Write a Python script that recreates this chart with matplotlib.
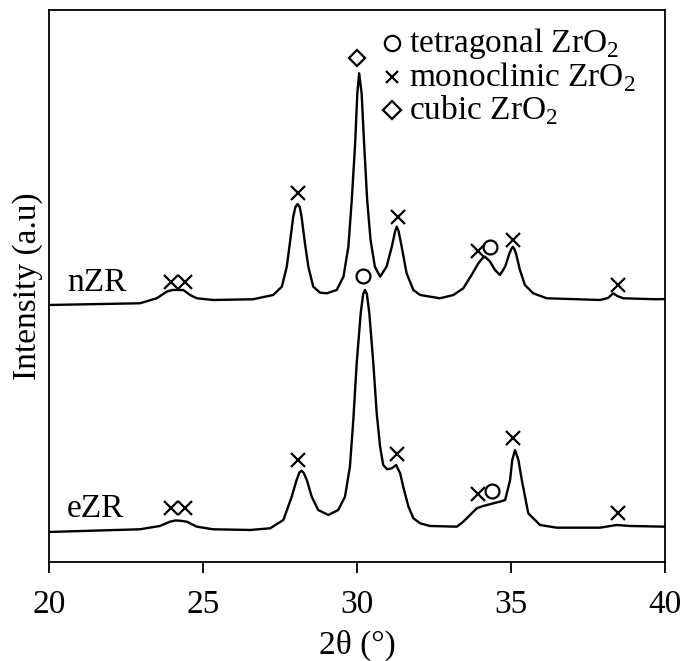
import matplotlib
matplotlib.use("Agg")
import matplotlib.pyplot as plt

plt.rcParams['font.family'] = ['Liberation Serif', 'DejaVu Serif']
plt.rcParams['mathtext.fontset'] = 'custom'
plt.rcParams['mathtext.rm'] = 'Liberation Serif'

# eZR pattern (2theta, intensity a.u.)
ezr_x = [20.0, 22.95, 23.6, 23.93, 24.1, 24.25, 24.47, 24.8, 25.33, 26.53, 27.18, 27.61, 27.88,
         28.04, 28.13, 28.2, 28.27, 28.37, 28.53, 28.74, 29.07, 29.39, 29.61, 29.77, 29.88, 29.99,
         30.12, 30.2, 30.26, 30.32, 30.4, 30.53, 30.64, 30.75, 30.85, 30.98, 31.13, 31.27, 31.4,
         31.5, 31.67, 31.83, 32.05, 32.37, 33.24, 33.45, 33.89, 34.1, 34.43, 34.64, 34.81, 34.97,
         35.04, 35.13, 35.24, 35.35, 35.56, 35.94, 36.48, 37.89, 38.43, 38.86, 40.0]
ezr_y = [30, 32.7, 36, 40.3, 41.5, 41.3, 40.3, 35.3, 32.7, 32, 33.7, 42, 65.3,
         82, 89.5, 91.3, 89, 82, 65.3, 52, 47, 52, 65.3, 95.3, 142, 198.7,
         248.7, 268, 272, 268, 248.7, 198.7, 148.7, 115.3, 97, 92.7, 93.7, 97, 88.7,
         75.3, 55.3, 43.7, 38.7, 36, 35.3, 40.3, 53.7, 56, 58.7, 60.3, 62, 82,
         102, 112, 102, 82, 48.7, 37, 34.3, 34.3, 37, 36, 35.3]

# nZR pattern (plotted with its offset already included)
nzr_x = [20.0, 22.95, 23.5, 23.82, 24.0, 24.15, 24.36, 24.58, 24.8, 25.33, 26.62, 27.28, 27.56,
         27.72, 27.82, 27.93, 28.0, 28.07, 28.14, 28.2, 28.31, 28.42, 28.58, 28.8, 29.02, 29.34,
         29.56, 29.72, 29.83, 29.94, 30.01, 30.07, 30.15, 30.23, 30.33, 30.44, 30.58, 30.75, 30.96,
         31.13, 31.24, 31.29, 31.35, 31.45, 31.61, 31.83, 32.05, 32.69, 33.13, 33.45, 33.72, 33.94,
         34.08, 34.16, 34.32, 34.48, 34.64, 34.81, 34.95, 35.02, 35.06, 35.1, 35.16, 35.29, 35.45,
         35.72, 36.16, 37.89, 38.15, 38.32, 38.45, 38.65, 39.73, 40.0]
nzr_y = [257, 258.7, 263.7, 270.3, 272, 272, 272, 267, 263.7, 262, 262.7, 267, 275.3,
         295.3, 318.7, 345.3, 355, 358, 355, 345.3, 318.7, 295.3, 275.3, 269.3, 268.7, 272,
         285.3, 315.3, 362, 418.7, 468.7, 488.7, 468.7, 418.7, 362, 322, 295.3, 285.3, 295.3,
         315.3, 331, 335.3, 331, 315.3, 288.7, 272, 267, 263.7, 267, 273.7, 287, 298.7,
         304, 305.3, 300.3, 292, 287, 295.3, 308.7, 313.5, 315.3, 313.5, 308.7, 292, 277,
         268.7, 263.7, 262, 264, 268.7, 266, 263.7, 262.7, 263]

# phase markers
mono_x = [23.95, 24.4, 28.07, 31.32, 33.94, 35.07, 38.48,
          23.95, 24.4, 28.07, 31.31, 33.94, 35.07, 38.48]
mono_y = [280.3, 280.3, 368.7, 344.7, 311.3, 322, 277,
          53.7, 53.7, 102, 108, 68, 123.7, 49.3]
tetra_x = [30.2, 34.32, 34.37]
tetra_y = [286, 314.7, 71.3]
cubic_x = [30.0]
cubic_y = [504]

fig = plt.figure(figsize=(6.88, 6.61), dpi=100)
ax = fig.add_axes([0.0712, 0.1498, 0.8954, 0.8351])

ax.plot(ezr_x, ezr_y, color='black', lw=1.7)
ax.plot(nzr_x, nzr_y, color='black', lw=1.7)
ax.plot(mono_x, mono_y, ls='none', marker='x', ms=10, mew=1.6, color='black')
ax.plot(tetra_x, tetra_y, ls='none', marker='o', ms=10, mew=1.6, mfc='none', mec='black')
ax.plot(cubic_x, cubic_y, ls='none', marker='D', ms=8, mew=1.6, mfc='none', mec='black')

ax.text(20.58, 279, 'nZR', fontsize=24, va='center', ha='left')
ax.text(20.58, 53, 'eZR', fontsize=24, va='center', ha='left')

# legend drawn by hand
leg = [('o', 11, 'tetragonal ZrO$_2$'), ('x', 9, 'monoclinic ZrO$_2$'), ('D', 9, 'cubic ZrO$_2$')]
for i, (m, s, lab) in enumerate(leg):
    yy = 0.940 - i * 0.061
    ax.plot([0.557], [yy], transform=ax.transAxes, marker=m, ms=s, mew=1.6,
            mfc='none', mec='black', ls='none', clip_on=False)
    ax.text(0.584, yy, lab, transform=ax.transAxes, fontsize=24, va='center', ha='left')

ax.set_xlim(20, 40)
ax.set_ylim(0, 552)
ax.set_xticks([20, 25, 30, 35, 40])
ax.set_yticks([])
ax.tick_params(axis='x', direction='out', length=8, width=1.3, labelsize=24, pad=12)
for sp in ax.spines.values():
    sp.set_linewidth(1.3)
ax.set_xlabel('2θ (°)', fontsize=24, labelpad=7)
ax.set_ylabel('Intensity (a.u)', fontsize=24, labelpad=4)

fig.savefig('out.png', dpi=100)
